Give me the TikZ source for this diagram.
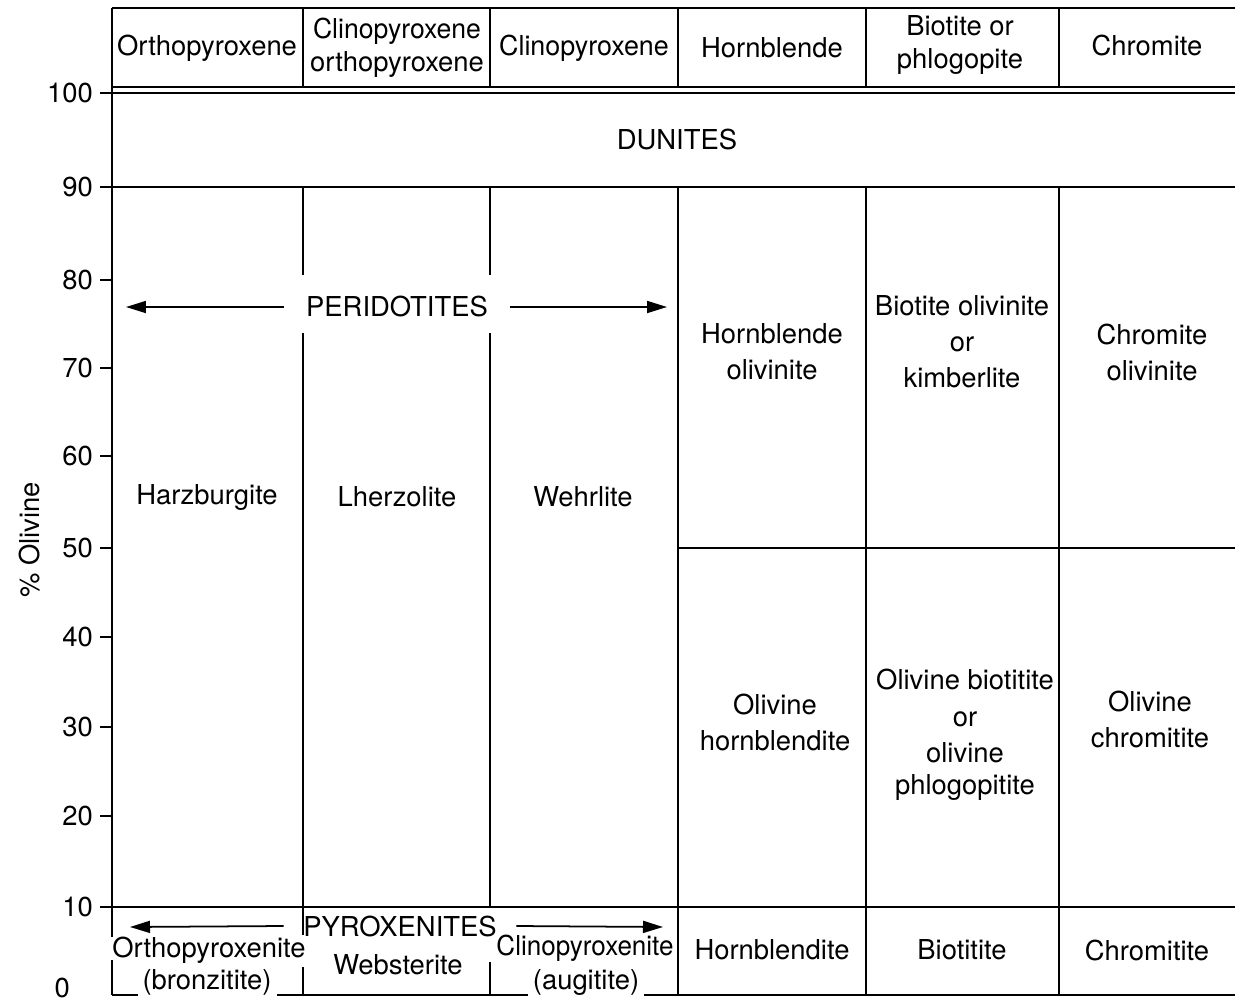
\documentclass[tikz,border=0pt]{standalone}
\usepackage{fontspec}
\usepackage{graphicx}
\setmainfont{TeX Gyre Heros}
\usetikzlibrary{arrows.meta}
\begin{document}
\begin{tikzpicture}[x=0.02cm,y=-0.02cm,
  rule/.style={line width=1.1pt},
  tick/.style={line width=1pt},
  lbl/.style={font=\fontsize{15.6}{20.5}\selectfont, align=center, inner sep=1pt},
  num/.style={font=\fontsize{15.6}{18}\selectfont, anchor=east, inner sep=1pt},
  arr/.style={line width=1pt,-{Triangle[length=0.4cm,width=0.24cm]}}]
\useasboundingbox (0,0) rectangle (1235,1005);

% header box and double rule at 100 %
\draw[rule] (112,8) -- (1235,8);
\draw[rule] (112,87) -- (1235,87);
\draw[rule] (112,93) -- (1235,93);
\foreach \x in {303,490,678,866,1059} \draw[rule] (\x,8) -- (\x,87);

% horizontal rules of the field
\draw[rule] (112,187) -- (1235,187);
\draw[rule] (678,548) -- (1235,548);
\draw[rule] (112,907) -- (1235,907);
\draw[rule] (112,995) -- (138,995);
\draw[rule] (277,995) -- (528,995);
\draw[rule] (644,995) -- (1235,995);

% axis
\draw[rule] (112,8) -- (112,937);
\draw[rule] (112,960) -- (112,995);

% vertical dividers
\draw[rule] (303,187) -- (303,275);
\draw[rule] (303,333) -- (303,935);
\draw[rule] (303,967) -- (303,995);
\draw[rule] (490,187) -- (490,275);
\draw[rule] (490,333) -- (490,908);
\draw[rule] (490,962) -- (490,995);
\foreach \x in {678,866,1059} \draw[rule] (\x,187) -- (\x,995);

% ticks and their numbers
\foreach \v/\y in {100/93,90/187,80/280,70/368,60/456,50/548,40/637,30/727,20/816,10/907} {
  \draw[tick] (100,\y) -- (112,\y);
  \node[num] (t\v) at (95,\y) {\v};
}
\node[num] (t0) at (72,988) {0};
\node[lbl, rotate=90] (ylab) at (30,540) {\% Olivine};

% column heads
\node[lbl] (h1) at (207,48) {Orthopyroxene};
\node[lbl] (h2) at (397,48) {\scalebox{0.97}[1]{Clinopyroxene}\\[-1.5pt]orthopyroxene};
\node[lbl] (h3) at (584,48) {\scalebox{0.98}[1]{Clinopyroxene}};
\node[lbl] (h4) at (772,48) {Hornblende};
\node[lbl] (h5) at (960,45) {Biotite or\\[-1.5pt]phlogopite};
\node[lbl] (h6) at (1147,46) {Chromite};

\node[lbl] (dun) at (677,140) {DUNITES};

% peridotite field
\node[lbl] (per) at (397,307) {PERIDOTITES};
\coordinate (perL) at (126,307);
\coordinate (perR) at (667,307);
\draw[arr] ([xshift=-0.4cm]per.west) -- (perL);
\draw[arr] ([xshift=0.4cm]per.east) -- (perR);

\node[lbl] (harz) at (207,497) {Harzburgite};
\node[lbl] (lherz) at (397,497) {Lherzolite};
\node[lbl] (wehr) at (583,497) {Wehrlite};

\node[lbl] (hbol) at (772,352) {Hornblende\\olivinite};
\node[lbl] (biol) at (962,342) {Biotite olivinite\\or\\kimberlite};
\node[lbl] (crol) at (1152,352) {Chromite\\olivinite};

\node[lbl] (olhb) at (775,722) {Olivine\\hornblendite};
\node[lbl] (olbi) at (965,735) {Olivine biotitite\\or\\olivine\\[-2pt]phlogopitite};
\node[lbl] (olcr) at (1150,719) {Olivine\\chromitite};

% pyroxenite field
\node[lbl] (pyr) at (400,926) {PYROXENITES};
\coordinate (pyrL) at (130,927);
\coordinate (pyrR) at (663,927);
\draw[arr] ([xshift=-0.35cm]pyr.west) -- (pyrL);
\draw[arr] ([xshift=0.35cm]pyr.east) -- (pyrR);

\node[lbl] (opx) at (209,950) {Orthopyroxenite};
\node[lbl] (bronz) at (207,982) {(bronzitite)};
\node[lbl] (webs) at (398,965) {Websterite};
\node[lbl] (cpx) at (585,948) {\scalebox{0.95}[1]{Clinopyroxenite}};
\node[lbl] (aug) at (586,982) {(augitite)};
\node[lbl] (hbite) at (772,950) {Hornblendite};
\node[lbl] (biite) at (962,950) {Biotitite};
\node[lbl] (crite) at (1147,950) {Chromitite};
\end{tikzpicture}
\end{document}
